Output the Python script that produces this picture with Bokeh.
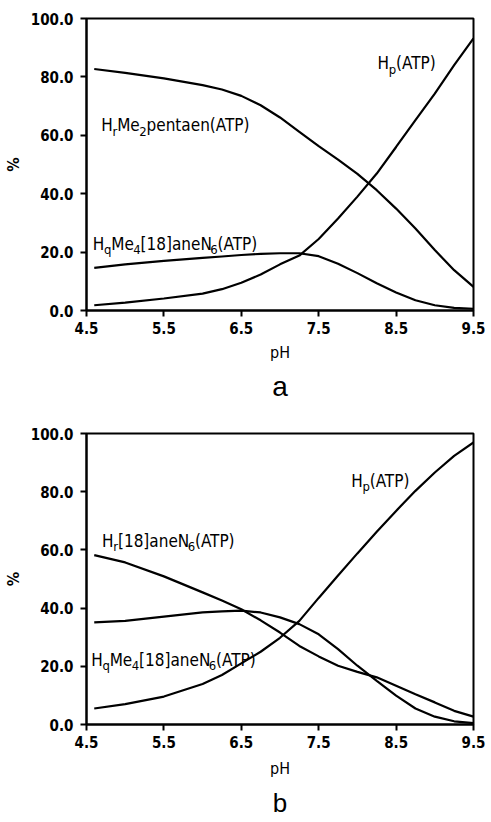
from bokeh.plotting import figure
from bokeh.layouts import column
from bokeh.models import Range1d, FixedTicker, PrintfTickFormatter, Title, ColumnDataSource
from bokeh.core.properties import value
from bokeh.embed import file_html
from bokeh.resources import INLINE

# ---------------- data ----------------
x_ticks = [4.5, 5.5, 6.5, 7.5, 8.5, 9.5]
y_ticks = [0, 20, 40, 60, 80, 100]

ph = [4.6, 5.0, 5.5, 6.0, 6.25, 6.5, 6.75, 7.0, 7.25, 7.5, 7.75, 8.0, 8.25, 8.5, 8.75, 9.0, 9.25, 9.5]

# panel a
a_hr_me2pentaen = [82.7, 81.4, 79.5, 77.2, 75.7, 73.5, 70.3, 66.1, 61.2, 56.3, 51.7, 46.8, 41.2, 34.9, 28.1, 20.7, 13.8, 8.1]
a_hp = [1.8, 2.7, 4.1, 5.8, 7.3, 9.5, 12.3, 15.8, 18.8, 24.5, 31.5, 39.0, 46.9, 56.0, 65.2, 74.3, 84.0, 93.2]
a_hq_me4 = [14.6, 15.8, 17.0, 18.0, 18.5, 19.0, 19.4, 19.6, 19.6, 18.6, 16.0, 12.8, 9.3, 6.2, 3.5, 1.8, 0.9, 0.6]

# panel b
b_hr_18ane = [58.2, 55.7, 50.9, 45.4, 42.6, 39.6, 35.8, 31.6, 27.0, 23.4, 20.2, 18.1, 16.2, 13.3, 10.4, 7.6, 4.7, 2.7]
b_hq_me4 = [35.1, 35.6, 37.1, 38.5, 38.9, 39.1, 38.5, 36.8, 34.5, 31.0, 25.9, 20.2, 15.0, 9.9, 5.5, 2.7, 1.1, 0.5]
b_hp = [5.5, 7.0, 9.6, 13.9, 17.0, 21.0, 25.0, 29.8, 35.6, 43.5, 51.2, 58.8, 66.2, 73.4, 80.3, 86.6, 92.3, 96.9]

# curve labels: (text, is_subscript)
lab_hp = [("H", False), ("p", True), ("(ATP)", False)]
lab_hr_me2 = [("H", False), ("r", True), ("Me", False), ("2", True), ("pentaen(ATP)", False)]
lab_hq_me4 = [("H", False), ("q", True), ("Me", False), ("4", True), ("[18]aneN", False), ("6", True), ("(ATP)", False)]
lab_hr_18 = [("H", False), ("r", True), ("[18]aneN", False), ("6", True), ("(ATP)", False)]

# ---------------- style ----------------
FONT = "DejaVu Sans Condensed"
MAIN = 17
SUB = 13
SUB_DY = 6
COND = 0.88
WID = {"H": .752, "M": .863, "N": .748, "A": .684, "T": .611, "P": .603, "e": .615, "p": .635,
       "n": .634, "t": .392, "a": .613, "o": .612, "r": .411, "q": .635, "(": .390, ")": .390,
       "[": .390, "]": .390}


def add_label(p, x, y, parts):
    texts, xo, yo, fs = [], [], [], []
    cur = 0.0
    for s, sub in parts:
        size = SUB if sub else MAIN
        texts.append(s)
        xo.append(cur)
        yo.append(SUB_DY if sub else 0)
        fs.append(f"{size}px")
        cur += sum(WID.get(c, .636) for c in s) * COND * size
    n = len(texts)
    src = ColumnDataSource(dict(x=[x] * n, y=[y] * n, text=texts, xo=xo, yo=yo, fs=fs))
    p.text(x="x", y="y", text="text", x_offset="xo", y_offset="yo", text_font_size="fs",
           source=src, text_font=value(FONT), text_baseline="alphabetic", text_align="left",
           text_color="black")


def make_fig(height, top, bottom, left, right, letter, letter_offset, letter_standoff,
             letter_size, xlabel_standoff):
    p = figure(width=491, height=height, x_range=Range1d(4.5, 9.5), y_range=Range1d(0, 100),
               output_backend="svg", toolbar_location=None,
               min_border_top=top, min_border_bottom=bottom, min_border_left=left,
               min_border_right=right)
    p.grid.visible = False
    p.outline_line_color = "black"
    p.outline_line_width = 2
    p.outline_line_alpha = 1
    p.background_fill_color = "white"
    p.border_fill_color = "white"
    p.xaxis.ticker = FixedTicker(ticks=x_ticks)
    p.yaxis.ticker = FixedTicker(ticks=y_ticks)
    p.yaxis.formatter = PrintfTickFormatter(format="%.1f")
    for ax in (p.xaxis, p.yaxis):
        ax.axis_line_width = 2
        ax.axis_line_color = "black"
        ax.major_tick_line_width = 2
        ax.major_tick_out = 6
        ax.major_tick_in = 0
        ax.minor_tick_line_color = None
        ax.major_label_text_font = FONT
        ax.major_label_text_font_style = "bold"
        ax.major_label_text_font_size = "15px"
        ax.major_label_text_color = "black"
        ax.axis_label_text_font = FONT
        ax.axis_label_text_font_size = "16px"
        ax.axis_label_text_color = "black"
    p.xaxis.axis_label = "pH"
    p.xaxis.axis_label_text_font_style = "normal"
    p.xaxis.major_label_standoff = 5
    p.xaxis.axis_label_standoff = xlabel_standoff
    p.yaxis.axis_label = "%"
    p.yaxis.axis_label_text_font_style = "bold"
    p.yaxis.major_label_standoff = 7
    p.yaxis.axis_label_standoff = 5
    p.add_layout(Title(text=letter, align="center", offset=letter_offset, standoff=letter_standoff,
                       text_font="Liberation Sans", text_font_style="normal",
                       text_font_size=letter_size, text_color="black"), "below")
    return p


# ---------------- panel a ----------------
pa = make_fig(405, 18, 95, 77, 18, "a", -31, 8, "28px", 6)
pa.line(ph, a_hr_me2pentaen, line_color="black", line_width=2.2)
pa.line(ph, a_hp, line_color="black", line_width=2.2)
pa.line(ph, a_hq_me4, line_color="black", line_width=2.2)
add_label(pa, 8.26, 84.6, lab_hp)
add_label(pa, 4.69, 63.4, lab_hr_me2)
add_label(pa, 4.58, 22.9, lab_hq_me4)

# ---------------- panel b ----------------
pb = make_fig(417, 28, 98, 82, 13, "b", -27, 10, "26px", 8)
pb.line(ph, b_hr_18ane, line_color="black", line_width=2.2)
pb.line(ph, b_hq_me4, line_color="black", line_width=2.2)
pb.line(ph, b_hp, line_color="black", line_width=2.2)
add_label(pb, 7.92, 83.8, lab_hp)
add_label(pb, 4.70, 63.2, lab_hr_18)
add_label(pb, 4.56, 22.3, lab_hq_me4)

layout = column(pa, pb, spacing=0)
open("out.html", "w").write(file_html(layout, INLINE))
